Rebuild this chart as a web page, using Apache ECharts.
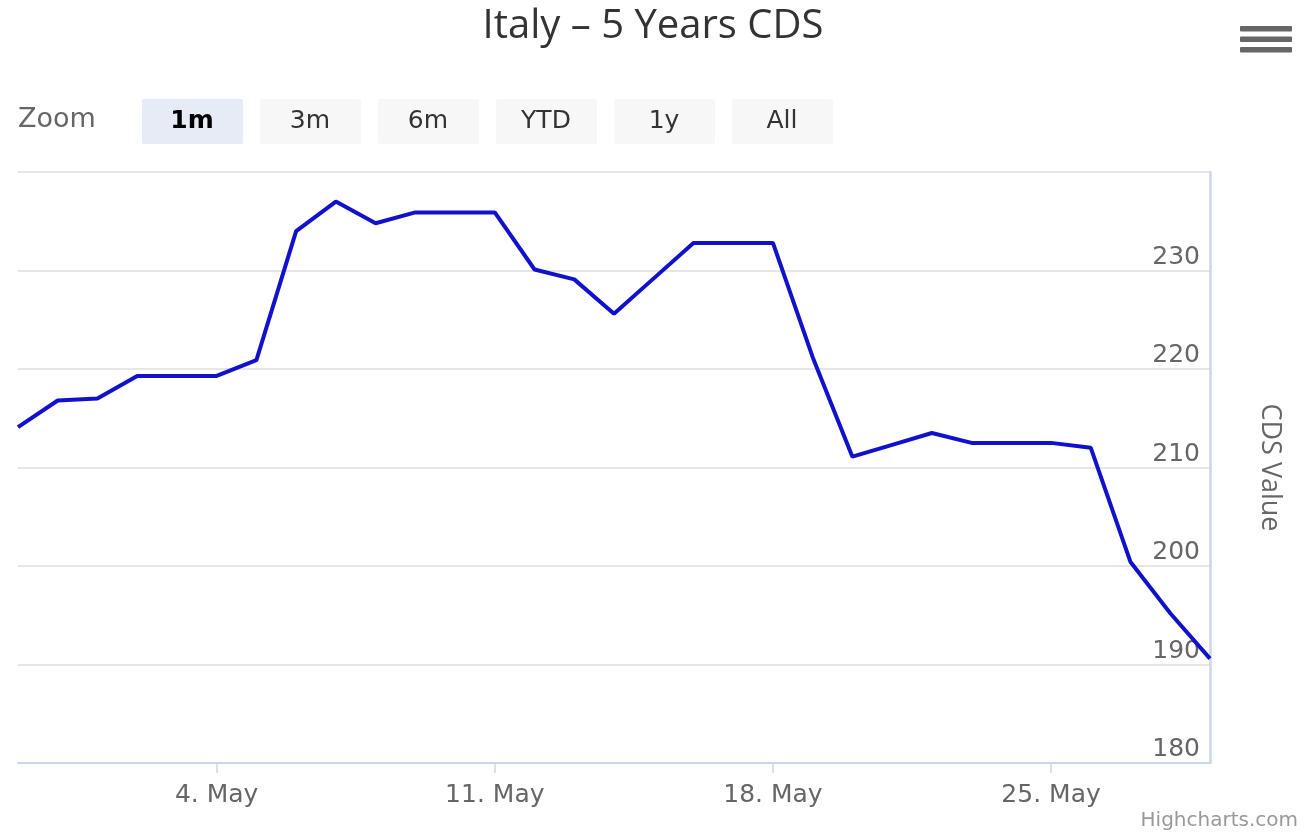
<!DOCTYPE html>
<html>
<head>
<meta charset="utf-8">
<script src="https://cdn.jsdelivr.net/npm/echarts@6/dist/echarts.min.js"></script>
<style>
  html, body { margin: 0; padding: 0; background: #fff; }
  #cds { width: 1306px; height: 838px; }
</style>
</head>
<body>
<div id="cds"></div>
<script>
var cdsChart = echarts.init(document.getElementById("cds"));

// one point per day, 29 Apr .. 29 May
var days = ['29. Apr', '30. Apr', '1. May', '2. May', '3. May', '4. May', '5. May', '6. May',
  '7. May', '8. May', '9. May', '10. May', '11. May', '12. May', '13. May', '14. May',
  '15. May', '16. May', '17. May', '18. May', '19. May', '20. May', '21. May', '22. May',
  '23. May', '24. May', '25. May', '26. May', '27. May', '28. May', '29. May'];

var cdsValues = [214.1, 216.8, 217.0, 219.3, 219.3, 219.3, 220.9, 234.0,
  237.0, 234.8, 235.9, 235.9, 235.9, 230.1, 229.1, 225.6,
  229.2, 232.8, 232.8, 232.8, 221.2, 211.1, 212.3, 213.5,
  212.5, 212.5, 212.5, 212.0, 200.4, 195.2, 190.6];

var yTicks = [180, 190, 200, 210, 220, 230, 240];
var zoomButtons = ['1m', '3m', '6m', 'YTD', '1y', 'All'];
var selectedButton = '1m';

var fontMain = '"DejaVu Sans", "Open Sans", sans-serif';

// range selector buttons
var graphics = [{
  type: 'text',
  left: 18,
  top: 106,
  style: { text: 'Zoom', fill: '#666', font: '27px "DejaVu Sans", sans-serif' }
}];
for (let i = 0; i < zoomButtons.length; i++) {
  let sel = zoomButtons[i] == selectedButton;
  graphics.push({
    type: 'group',
    left: 142 + i * 118,
    top: 99,
    children: [
      { type: 'rect', shape: { x: 0, y: 0, width: 101, height: 45, r: 2 },
        style: { fill: sel ? '#e6ebf5' : '#f7f7f7' } },
      { type: 'text', x: 50, y: 22,
        style: { text: zoomButtons[i], fill: sel ? '#000' : '#333', align: 'center', verticalAlign: 'middle',
          font: (sel ? 'bold ' : '') + '25px "DejaVu Sans", sans-serif' } }
    ]
  });
}
// context menu icon
for (let k = 0; k < 3; k++) {
  graphics.push({ type: 'rect', left: 1240, top: 26 + k * 10.5,
    shape: { width: 52, height: 5.5, r: 1 }, style: { fill: '#666' } });
}
graphics.push({
  type: 'text', right: 8, top: 811,
  style: { text: 'Highcharts.com', fill: '#999', font: '20px "DejaVu Sans", sans-serif' }
});

cdsChart.setOption({
  animation: false,
  title: {
    text: 'Italy – 5 Years CDS',
    left: 'center',
    top: 2,
    textStyle: { fontSize: 40, fontWeight: 'normal', color: '#333', fontFamily: '"Open Sans", sans-serif' }
  },
  graphic: graphics,
  grid: { left: 18, right: 96, top: 172, bottom: 75 },
  xAxis: {
    type: 'category',
    data: days,
    boundaryGap: false,
    axisLine: { lineStyle: { color: '#ccd6eb', width: 2 } },
    axisTick: {
      length: 10,
      lineStyle: { color: '#ccd6eb', width: 1.5 },
      interval: function (idx) { return (idx - 5) % 7 === 0; }
    },
    axisLabel: {
      interval: function (idx) { return (idx - 5) % 7 === 0; },
      color: '#666',
      fontSize: 25,
      fontFamily: fontMain,
      margin: 20
    },
    splitLine: { show: false }
  },
  yAxis: {
    type: 'value',
    position: 'right',
    min: yTicks[0],
    max: yTicks[yTicks.length - 1],
    interval: 10,
    name: 'CDS Value',
    nameLocation: 'middle',
    nameRotate: -90,
    nameGap: 46,
    nameTextStyle: { color: '#666', fontSize: 27, fontFamily: '"Open Sans", sans-serif' },
    axisLine: { show: true, lineStyle: { color: '#ccd6eb', width: 2.5 } },
    axisTick: { show: false },
    axisLabel: {
      inside: true,
      margin: 10,
      color: '#666',
      fontSize: 25,
      fontFamily: fontMain,
      verticalAlign: 'bottom',
      padding: [0, 0, 1, 0],
      formatter: function (v) { return v == 240 ? '' : v; }
    },
    splitLine: { lineStyle: { color: '#e6e6e6', width: 2 } }
  },
  series: [{
    name: 'CDS Value',
    type: 'line',
    data: cdsValues,
    color: '#1111cc',
    symbol: 'none',
    smooth: false,
    lineStyle: { width: 4 }
  }]
});
</script>
</body>
</html>
